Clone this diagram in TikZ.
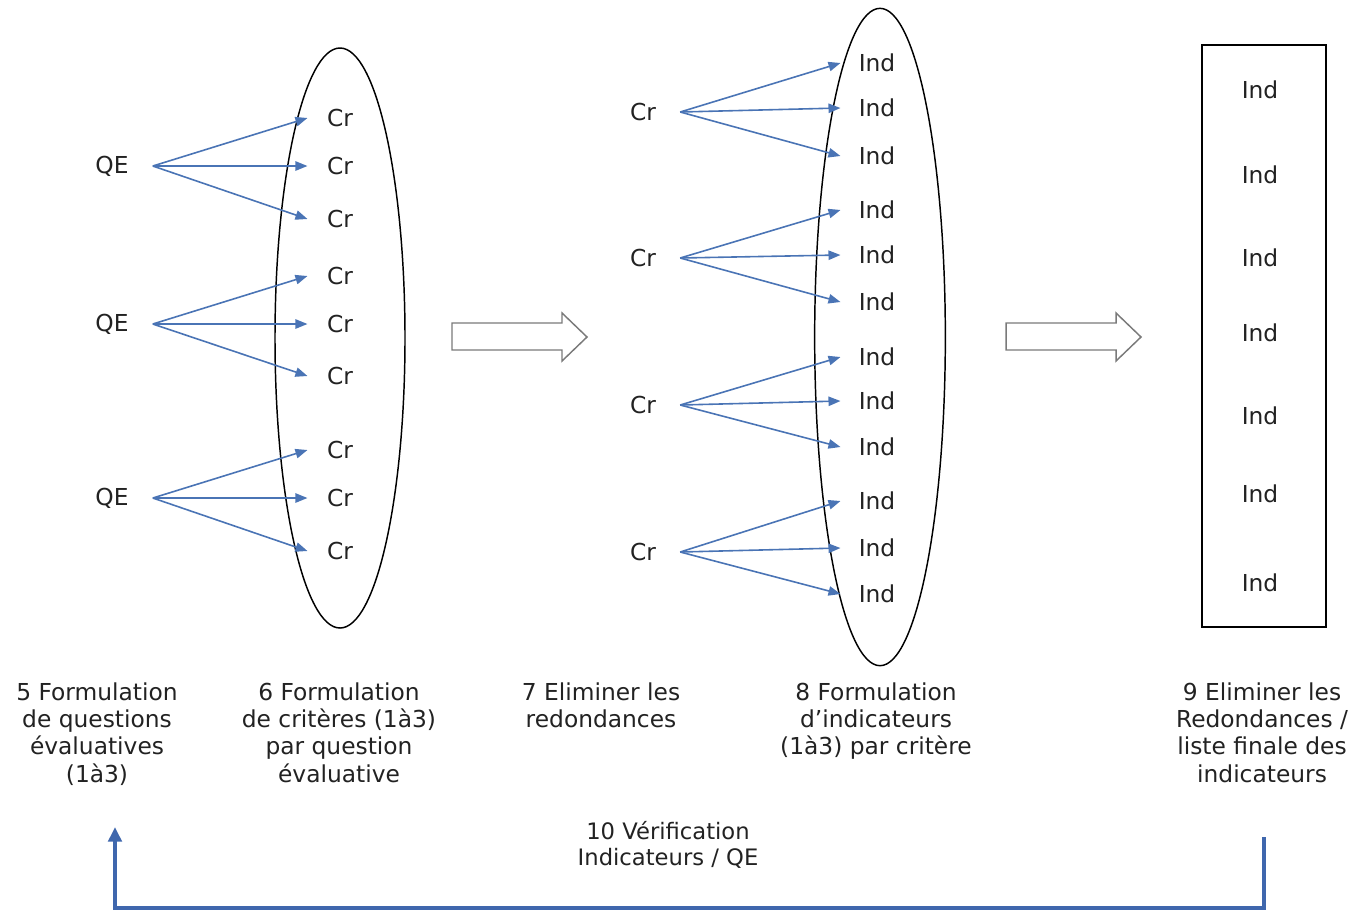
\documentclass[tikz,border=0pt]{standalone}
\usepackage{fontspec}
\setmainfont{DejaVu Sans}
\usetikzlibrary{arrows.meta,shapes.geometric}
\definecolor{arr}{HTML}{4A74B5}
\definecolor{loopc}{HTML}{3F67AD}
\definecolor{txt}{HTML}{222222}
\definecolor{hollow}{HTML}{7A7A7A}
\begin{document}
\begin{tikzpicture}[x=0.75pt,y=-0.75pt,
  every node/.style={text=txt, font=\fontsize{17.5}{20.5}\selectfont},
  srcnode/.style={inner ysep=2pt, inner xsep=18pt},
  crnode/.style={inner ysep=2pt, inner xsep=14.5pt},
  indnode/.style={inner ysep=2pt, inner xsep=13.5pt},
  plain/.style={inner sep=0pt},
  caption/.style={inner sep=0pt, align=center, anchor=north},
  link/.style={draw=arr, line width=1.2pt, -{Triangle[length=9pt,width=7pt]}},
  bigarrow/.style={draw=hollow, line width=1.1pt, fill=white, line join=miter},
  loopline/.style={draw=loopc, line width=3pt, -{Triangle[length=11pt,width=10pt]}},
]
\useasboundingbox (0,0) rectangle (1358,915);

% containers
\node[draw, line width=1.1pt, ellipse, inner sep=0pt, minimum width=97.5pt, minimum height=435pt] (e1) at (340,338) {};
\node[draw, line width=1.1pt, ellipse, inner sep=0pt, minimum width=98pt, minimum height=493pt] (e2) at (880,337) {};
\node[draw, line width=1.1pt, rectangle, inner sep=0pt, minimum width=93pt, minimum height=436.5pt] (box) at (1264,336) {};

% QE -> Cr
\foreach \i/\y in {1/166,2/324,3/498} {
  \node[srcnode] (q\i) at (112,\y) {QE};
}
\foreach \i/\y in {1/118,2/166,3/219,4/276,5/324,6/376,7/450,8/498,9/551} {
  \node[crnode] (c\i) at (340,\y) {Cr};
}
\foreach \q/\a/\b/\c in {1/1/2/3,2/4/5/6,3/7/8/9} {
  \draw[link] (q\q.east) -- (c\a.west);
  \draw[link] (q\q.east) -- (c\b.west);
  \draw[link] (q\q.east) -- (c\c.west);
}

% Cr -> Ind
\foreach \i/\y in {1/112,2/258,3/405,4/552} {
  \node[srcnode] (k\i) at (643,\y) {Cr};
}
\foreach \i/\y in {1/63,2/108,3/156,4/210,5/255,6/302,7/357,8/401,9/447,10/501,11/548,12/594} {
  \node[indnode] (d\i) at (877,\y) {Ind};
}
\foreach \k/\a/\b/\c in {1/1/2/3,2/4/5/6,3/7/8/9,4/10/11/12} {
  \draw[link] (k\k.east) -- (d\a.west);
  \draw[link] (k\k.east) -- (d\b.west);
  \draw[link] (k\k.east) -- (d\c.west);
}

% final list
\foreach \i/\y in {1/90,2/175,3/258,4/333,5/416,6/494,7/583} {
  \node[plain] (f\i) at (1260,\y) {Ind};
}

% hollow arrows
\draw[bigarrow] (452,323) -- (562,323) -- (562,313) -- (587,337) -- (562,361) -- (562,350) -- (452,350) -- cycle;
\draw[bigarrow] (1006,323) -- (1116,323) -- (1116,313) -- (1141,337) -- (1116,361) -- (1116,350) -- (1006,350) -- cycle;

% captions
\node[caption] (t5) at (97,682) {5 Formulation\\de questions\\évaluatives\\(1à3)};
\node[caption] (t6) at (339,682) {6 Formulation\\de critères (1à3)\\par question\\évaluative};
\node[caption] (t7) at (601,682) {7 Eliminer les\\redondances};
\node[caption] (t8) at (876,682) {8 Formulation\\d’indicateurs\\(1à3) par critère};
\node[caption] (t9) at (1262,682) {9 Eliminer les\\Redondances /\\liste finale des\\indicateurs};
\node[caption, font=\fontsize{17}{19.5}\selectfont] (t10) at (668,821) {10 Vérification\\Indicateurs / QE};

% feedback loop
\coordinate (ls) at (1264,837);
\coordinate (lc1) at (1264,908);
\coordinate (lc2) at (115,908);
\coordinate (le) at (115,827);
\draw[loopline] (ls) -- (lc1) -- (lc2) -- (le);
\end{tikzpicture}
\end{document}
